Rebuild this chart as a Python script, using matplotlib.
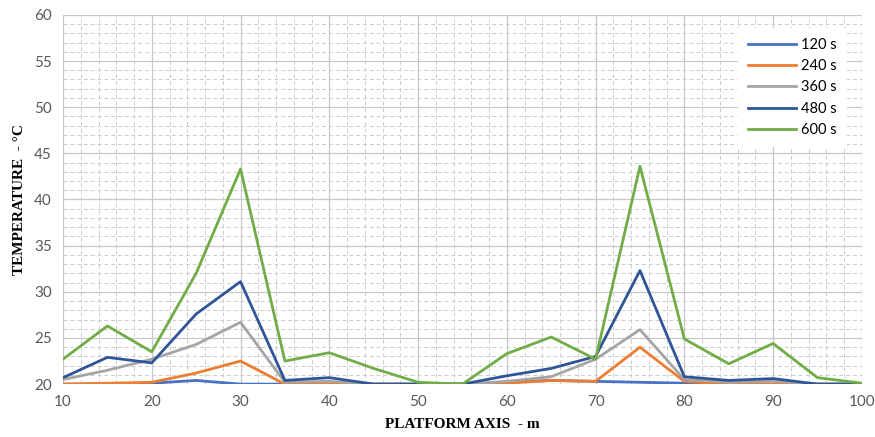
import matplotlib.pyplot as plt
from matplotlib.ticker import MultipleLocator

x = [10, 15, 20, 25, 30, 35, 40, 45, 50, 55, 60, 65, 70, 75, 80, 85, 90, 95, 100]
t120 = [20.0, 20.0, 20.1, 20.4, 20.0, 20.0, 20.0, 20.0, 20.0, 20.0, 20.2, 20.4, 20.3, 20.2, 20.1, 20.0, 20.0, 20.0, 20.0]
t240 = [20.0, 20.1, 20.2, 21.2, 22.5, 20.0, 20.0, 20.0, 20.0, 20.0, 20.1, 20.4, 20.3, 24.0, 20.3, 20.0, 20.0, 20.0, 20.0]
t360 = [20.5, 21.5, 22.7, 24.3, 26.7, 20.2, 20.3, 20.0, 20.0, 20.0, 20.3, 20.8, 22.7, 25.9, 20.5, 20.2, 20.3, 20.0, 20.0]
t480 = [20.7, 22.9, 22.3, 27.6, 31.1, 20.4, 20.7, 20.0, 20.0, 20.0, 20.9, 21.7, 23.0, 32.3, 20.8, 20.4, 20.6, 20.0, 20.0]
t600 = [22.7, 26.3, 23.5, 32.0, 43.3, 22.5, 23.4, 21.7, 20.2, 20.0, 23.3, 25.1, 22.7, 43.6, 24.9, 22.2, 24.4, 20.7, 20.1]

series = [("120 s", t120, "#4472C4"),
          ("240 s", t240, "#ED7D31"),
          ("360 s", t360, "#A5A5A5"),
          ("480 s", t480, "#2F5597"),
          ("600 s", t600, "#70AD47")]

fig = plt.figure(figsize=(8.75, 4.37), dpi=100)
ax = fig.add_axes([0.072, 0.121, 0.913, 0.845])

for label, vals, color in series:
    ax.plot(x, vals, color=color, lw=2.0, label=label, zorder=3)

ax.set_xlim(10, 100)
ax.set_ylim(20, 60)
ax.xaxis.set_major_locator(MultipleLocator(10))
ax.xaxis.set_minor_locator(MultipleLocator(2))
ax.yaxis.set_major_locator(MultipleLocator(5))
ax.yaxis.set_minor_locator(MultipleLocator(1))
ax.grid(which="major", color="#c8c8c8", lw=0.9, ls="-")
ax.grid(which="minor", color="#cccccc", lw=0.7, ls=(0, (4, 3)))
ax.set_axisbelow(True)
ax.tick_params(which="both", length=0)
ax.tick_params(axis="both", labelsize=11, labelcolor="#595959", pad=8)
for lab in ax.get_xticklabels() + ax.get_yticklabels():
    lab.set_family("Lato")
for s in ax.spines.values():
    s.set_visible(False)

ax.set_xlabel("PLATFORM AXIS  - m", family="Liberation Serif", fontweight="bold",
              fontsize=11, labelpad=6)
ax.set_ylabel("TEMPERATURE  - °C", family="Liberation Serif", fontweight="bold",
              fontsize=11, labelpad=6)

leg = ax.legend(loc="upper right", bbox_to_anchor=(0.99, 0.985), frameon=True,
                fancybox=False, edgecolor="white", framealpha=1.0,
                prop={"family": "Lato", "size": 10.5}, handlelength=3.3,
                handletextpad=0.3, labelspacing=0.5, borderpad=0.7)
leg.get_frame().set_linewidth(0)

fig.savefig("out.png", dpi=100)
